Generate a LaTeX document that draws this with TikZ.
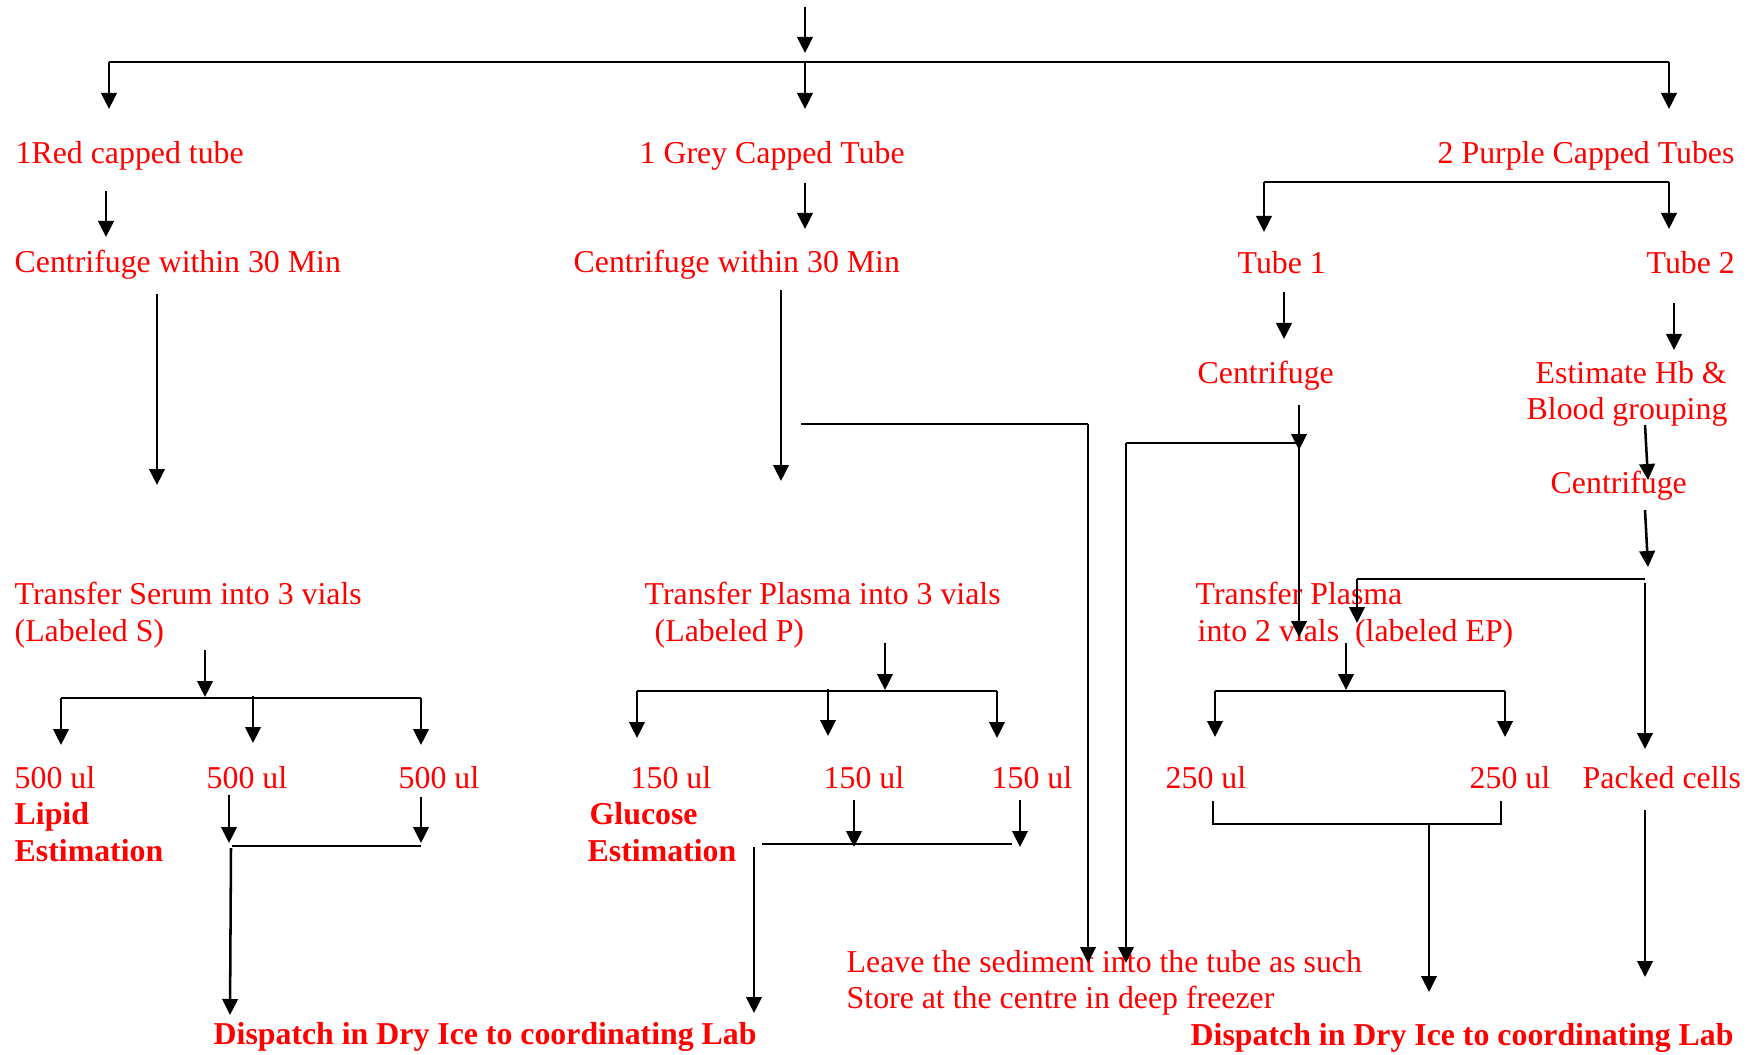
\documentclass[tikz,border=0pt]{standalone}
\usepackage{fontspec}
\setmainfont{Liberation Serif}
\usetikzlibrary{arrows.meta}
\definecolor{txtred}{RGB}{255,0,0}
\begin{document}
\begin{tikzpicture}[x=0.01cm,y=-0.01cm,
  lbl/.style={text=txtred, font=\fontsize{9.05pt}{11pt}\selectfont, inner sep=0pt, anchor=base west},
  blbl/.style={lbl, font=\fontsize{9.05pt}{11pt}\selectfont\bfseries},
  con/.style={line width=0.72pt, draw=black},
  arr/.style={con, -{Triangle[length=0.16cm,width=0.155cm]}}]
\useasboundingbox (0,0) rectangle (1758,1054);

% ---------- texts ----------
\node[lbl] (red)    at (15,163)   {1Red capped tube};
\node[lbl] (grey)   at (639,163)  {1 Grey Capped Tube};
\node[lbl] (purple) at (1437,163) {2 Purple Capped Tubes};
\node[lbl] (cenR)   at (14,272)   {Centrifuge within 30 Min};
\node[lbl] (cenG)   at (573,272)  {Centrifuge within 30 Min};
\node[lbl] (tube1)  at (1237,273) {Tube 1};
\node[lbl] (tube2)  at (1646,273) {Tube 2};
\node[lbl] (cenT1)  at (1197,383) {Centrifuge};
\node[lbl] (hb1)    at (1535,383) {Estimate Hb \&};
\node[lbl] (hb2)    at (1526,419) {Blood grouping};
\node[lbl] (cenT2)  at (1550,493) {Centrifuge};
\node[lbl] (ser1)   at (14,604)   {Transfer Serum into 3 vials};
\node[lbl] (ser2)   at (14,641)   {(Labeled S)};
\node[lbl] (pla1)   at (644,604)  {Transfer Plasma into 3 vials};
\node[lbl] (pla2)   at (654,641)  {(Labeled P)};
\node[lbl] (ep1)    at (1195,604) {Transfer Plasma};
\node[lbl] (ep2)    at (1197,641) {into 2 vials\ \ (labeled EP)};
\node[lbl] (s1)     at (14,788)   {500 ul};
\node[lbl] (s2)     at (206,788)  {500 ul};
\node[lbl] (s3)     at (398,788)  {500 ul};
\node[blbl] (lip1)  at (14,824)   {Lipid};
\node[blbl] (lip2)  at (14,861)   {Estimation};
\node[lbl] (p1)     at (630,788)  {150 ul};
\node[lbl] (p2)     at (823,788)  {150 ul};
\node[lbl] (p3)     at (991,788)  {150 ul};
\node[blbl] (glu1)  at (589,824)  {Glucose};
\node[blbl] (glu2)  at (587,861)  {Estimation};
\node[lbl] (e1)     at (1165,788) {250 ul};
\node[lbl] (e2)     at (1469,788) {250 ul};
\node[lbl] (pack)   at (1582,788) {Packed cells};
\node[lbl] (leave1) at (846,972)  {Leave the sediment into the tube as such};
\node[lbl] (leave2) at (846,1008) {Store at the centre in deep freezer};
\node[blbl] (dispL) at (213,1044) {Dispatch in Dry Ice to coordinating Lab};
\node[blbl] (dispR) at (1190,1045) {Dispatch in Dry Ice to coordinating Lab};

% ---------- top distribution ----------
\coordinate (src)  at (805,7);
\coordinate (busL) at (109,62);
\coordinate (busM) at (805,62);
\coordinate (busR) at (1669,62);
\draw[arr] (src) -- ++(0,46);
\draw[con] (busL) -- (busR);
\draw[arr] (busL) -- ++(0,47);
\draw[arr] (busM) -- ++(0,47);
\draw[arr] (busR) -- ++(0,47);

% ---------- red tube ----------
\coordinate (rA) at (106,191);
\draw[arr] (rA) -- ++(0,46);
\coordinate (rB) at (157,294);
\draw[arr] (rB) -- ++(0,191);

% ---------- grey tube ----------
\coordinate (gA) at (805,183);
\draw[arr] (gA) -- ++(0,46);
\coordinate (gB) at (781,290);
\draw[arr] (gB) -- ++(0,191);
\coordinate (gH1) at (801,424);
\coordinate (gH2) at (1088,424);
\coordinate (sedA) at (1088,963);
\draw[con] (gH1) -- (gH2);
\draw[arr] (gH2) -- (sedA);

% ---------- purple tubes ----------
\coordinate (pbL) at (1264,182);
\coordinate (pbR) at (1669,182);
\draw[con] (pbL) -- (pbR);
\draw[arr] (pbL) -- ++(0,50);
\draw[arr] (pbR) -- ++(0,47);
\coordinate (t1A) at (1284,292);
\draw[arr] (t1A) -- ++(0,47);
\coordinate (t1B) at (1299,405);
\coordinate (t1J) at (1299,443);
\coordinate (t1H) at (1126,443);
\coordinate (sedB) at (1126,963);
\draw[arr] (t1B) -- ++(0,45);
\draw[arr] (t1J) -- ++(0,194);
\draw[con] (t1H) -- (t1J);
\draw[arr] (t1H) -- (sedB);
\coordinate (t2A) at (1674,303);
\draw[arr] (t2A) -- ++(0,47);
\coordinate (bgA) at (1645,425);
\coordinate (bgB) at (1648,480);
\draw[arr] (bgA) -- (bgB);
\coordinate (c2A) at (1645,510);
\coordinate (c2B) at (1648,567);
\draw[arr] (c2A) -- (c2B);
\coordinate (c2L) at (1357,579);
\coordinate (c2R) at (1645,579);
\draw[con] (c2L) -- (c2R);
\draw[arr] (c2L) -- ++(0,44);
\coordinate (pkA) at (1645,583);
\draw[arr] (pkA) -- (1645,749);

% ---------- serum split ----------
\coordinate (sA) at (205,650);
\draw[arr] (sA) -- ++(0,47);
\coordinate (sbL) at (61,698);
\coordinate (sbR) at (421,698);
\draw[con] (sbL) -- (sbR);
\draw[arr] (sbL) -- ++(0,47);
\coordinate (sbM) at (253,696);
\draw[arr] (sbM) -- ++(0,47);
\draw[arr] (sbR) -- ++(0,47);

% ---------- plasma split ----------
\coordinate (pA) at (885,643);
\draw[arr] (pA) -- ++(0,47);
\coordinate (pbL2) at (637,691);
\coordinate (pbR2) at (997,691);
\draw[con] (pbL2) -- (pbR2);
\draw[arr] (pbL2) -- ++(0,47);
\coordinate (pbM2) at (828,689);
\draw[arr] (pbM2) -- ++(0,47);
\draw[arr] (pbR2) -- ++(0,47);

% ---------- EP split ----------
\coordinate (eA) at (1346,643);
\draw[arr] (eA) -- ++(0,47);
\coordinate (ebL) at (1215,691);
\coordinate (ebR) at (1505,691);
\draw[con] (ebL) -- (ebR);
\draw[arr] (ebL) -- ++(0,46);
\draw[arr] (ebR) -- ++(0,46);

% ---------- serum to dispatch ----------
\coordinate (sd1) at (229,795);
\coordinate (sd2) at (421,797);
\draw[arr] (sd1) -- (229,843);
\draw[arr] (sd2) -- (421,843);
\coordinate (sdL) at (232,846);
\coordinate (sdR) at (421,846);
\draw[con] (sdL) -- (sdR);
\coordinate (sdD) at (231,848);
\draw[arr] (sdD) -- (230,1015);

% ---------- plasma to dispatch ----------
\coordinate (pd1) at (854,800);
\coordinate (pd2) at (1020,800);
\draw[arr] (pd1) -- ++(0,47);
\draw[arr] (pd2) -- ++(0,47);
\coordinate (pdL) at (762,844);
\coordinate (pdR) at (1012,844);
\draw[con] (pdL) -- (pdR);
\coordinate (pdD) at (754,847);
\draw[arr] (pdD) -- ++(0,166);

% ---------- EP to dispatch ----------
\coordinate (ed1) at (1213,801);
\coordinate (ed2) at (1501,801);
\coordinate (edJ) at (1429,824);
\draw[con] (ed1) -- (1213,824) -- (1501,824) -- (ed2);
\draw[arr] (edJ) -- ++(0,168);

% ---------- packed cells ----------
\coordinate (pkB) at (1645,810);
\draw[arr] (pkB) -- ++(0,167);
\end{tikzpicture}
\end{document}
